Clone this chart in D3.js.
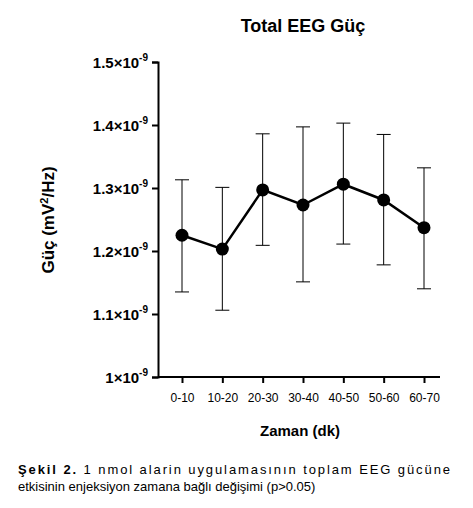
<!DOCTYPE html>
<html><head><meta charset="utf-8">
<script src="https://cdn.jsdelivr.net/npm/d3@7"></script>
<style>body{margin:0;background:#fff;font-family:Arial,"Liberation Sans",sans-serif}</style>
</head><body><svg id="c" width="473" height="508"></svg>
<script>
var cats = ["0-10","10-20","20-30","30-40","40-50","50-60","60-70"];
var means = [1.225,1.203,1.297,1.273,1.306,1.281,1.237];
var upper = [1.313,1.301,1.386,1.397,1.403,1.385,1.332];
var lower = [1.135,1.106,1.209,1.151,1.211,1.178,1.140];
var yTicks = [1.0,1.1,1.2,1.3,1.4,1.5];

var svg = d3.select("#c");
var x = d3.scalePoint().domain(cats).range([182,424]);
var y = d3.scaleLinear().domain([1.0,1.5]).range([377,62]);

var ya = svg.append("g").attr("transform","translate(158,0)")
  .call(d3.axisLeft(y).tickValues(yTicks).tickSize(6).tickFormat(""));
ya.selectAll("path,line").attr("stroke","#000").attr("stroke-width",2);
ya.selectAll(".tick").append("text").attr("x",-10).attr("dy","0.35em")
  .attr("text-anchor","end").attr("font-size",15).attr("font-weight","bold").attr("fill","#000")
  .html(d=>d.toFixed(1)==="1.0"?"1×10<tspan dy='-7' font-size='10'>-9</tspan>":d.toFixed(1)+"×10<tspan dy='-7' font-size='10'>-9</tspan>");

var xa = svg.append("g").attr("transform","translate(0,377)")
  .call(d3.axisBottom(x).tickSize(6).tickPadding(10));
xa.select(".domain").attr("d","M158,0H440");
xa.selectAll("path,line").attr("stroke","#000").attr("stroke-width",2);
xa.selectAll("text").attr("font-size",12).attr("fill","#000").attr("font-family","Arial,sans-serif");

var data = cats.map((c,i)=>({c:c,m:means[i],u:upper[i],l:lower[i]}));
var eb = svg.append("g").attr("stroke","#000").attr("stroke-width",1);
data.forEach(d=>{
  eb.append("line").attr("x1",x(d.c)).attr("x2",x(d.c)).attr("y1",y(d.u)).attr("y2",y(d.l));
  [d.u,d.l].forEach(v=>eb.append("line").attr("x1",x(d.c)-7).attr("x2",x(d.c)+7).attr("y1",y(v)).attr("y2",y(v)));
});
svg.append("path").datum(data).attr("fill","none").attr("stroke","#000").attr("stroke-width",2.5)
  .attr("d",d3.line().x(d=>x(d.c)).y(d=>y(d.m)));
svg.selectAll("circle.p").data(data).enter().append("circle")
  .attr("cx",d=>x(d.c)).attr("cy",d=>y(d.m)).attr("r",6.5).attr("fill","#000");

svg.append("text").attr("x",303).attr("y",32).attr("text-anchor","middle")
  .attr("font-size",18).attr("font-weight","bold").text("Total EEG Güç");
svg.append("text").attr("x",300).attr("y",436).attr("text-anchor","middle")
  .attr("font-size",15).attr("font-weight","bold").text("Zaman (dk)");
svg.append("text").attr("transform","translate(54,220) rotate(-90)").attr("text-anchor","middle")
  .attr("font-size",17).attr("font-weight","bold")
  .html("Güç (mV<tspan dy='-6' font-size='11'>2</tspan><tspan dy='6'>/Hz)</tspan>");

var cap = svg.append("text").attr("x",18).attr("y",474).attr("font-size",13).attr("textLength",432).attr("lengthAdjust","spacing");
cap.append("tspan").attr("font-weight","bold").text("Şekil 2.");
cap.append("tspan").text(" 1 nmol alarin uygulamasının toplam EEG gücüne");
svg.append("text").attr("x",18).attr("y",491).attr("font-size",13)
  .text("etkisinin enjeksiyon zamana bağlı değişimi (p>0.05)");
</script></body></html>
